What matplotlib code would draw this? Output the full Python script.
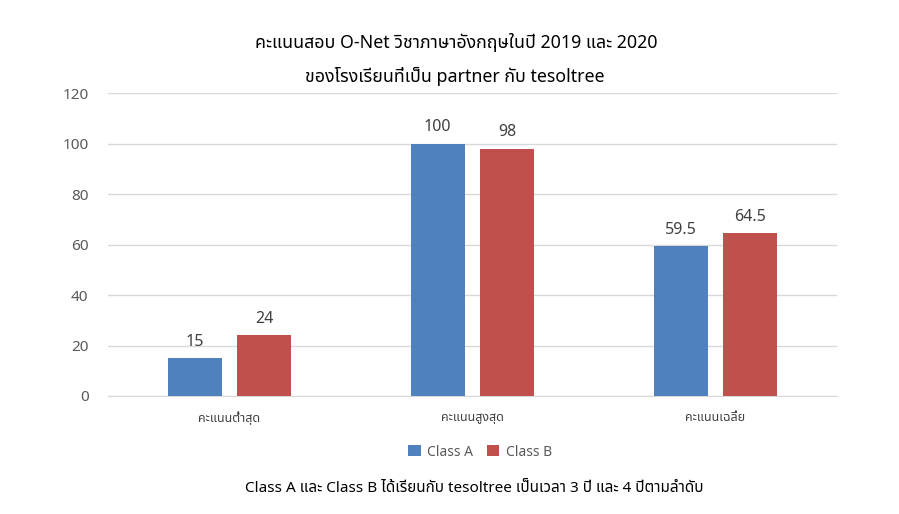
import matplotlib
matplotlib.use("Agg")
import matplotlib.pyplot as plt
import numpy as np

# fonts: Thai glyphs first, Latin fallback
plt.rcParams['font.family'] = ['Noto Sans Thai', 'Noto Sans', 'DejaVu Sans']

# data
categories = ['คะแนนต่ำสุด', 'คะแนนสูงสุด', 'คะแนนเฉลี่ย']
class_a = [15, 100, 59.5]
class_b = [24, 98, 64.5]
series_names = ['Class A', 'Class B']
title_1 = 'คะแนนสอบ O-Net วิชาภาษาอังกฤษในปี 2019 และ 2020'
title_2 = 'ของโรงเรียนที่เป็น partner กับ tesoltree'
caption = 'Class A และ Class B ได้เรียนกับ tesoltree เป็นเวลา 3 ปี และ 4 ปีตามลำดับ'

blue = '#4F81BD'
red = '#C0504D'
grid_col = '#D9D9D9'

fig = plt.figure(figsize=(8.99, 5.14), dpi=100)
ax = fig.add_axes([0.1201, 0.2296, 0.811, 0.589])

x = np.arange(len(categories))
w = 0.223
off = 0.143
bars_a = ax.bar(x - off, class_a, w, color=blue, label=series_names[0], zorder=3)
bars_b = ax.bar(x + off, class_b, w, color=red, label=series_names[1], zorder=3)

# value labels above bars
for bars in (bars_a, bars_b):
    for b in bars:
        v = b.get_height()
        ax.annotate(f'{v:g}', (b.get_x() + b.get_width() / 2, v), xytext=(0, 6),
                    textcoords='offset points', ha='center', va='bottom',
                    fontsize=11.5, color='#404040')

ax.set_xlim(-0.5, 2.5)
ax.set_ylim(0, 120)
ax.set_yticks(range(0, 121, 20))
ax.yaxis.grid(True, color=grid_col, linewidth=1, zorder=0)
ax.set_axisbelow(True)
for s in ['top', 'right', 'left']:
    ax.spines[s].set_visible(False)
ax.spines['bottom'].set_color(grid_col)
ax.tick_params(axis='y', length=0, pad=14, labelsize=11, labelcolor='#595959')
ax.tick_params(axis='x', length=0, pad=11, labelsize=9, labelcolor='#404040')
ax.set_xticks(x)
ax.set_xticklabels(categories, fontweight='bold')

# titles
fig.text(456 / 899, 1 - 42 / 514, title_1, ha='center', va='center', fontsize=12.8, color='#000000')
fig.text(455 / 899, 1 - 76 / 514, title_2, ha='center', va='center', fontsize=12.8, color='#000000')

# legend
fig.legend(handles=[bars_a, bars_b], labels=series_names, loc='center',
           bbox_to_anchor=(480 / 899, 1 - 452 / 514), ncol=2, frameon=False,
           fontsize=10, labelcolor='#595959', handlelength=0.9, handleheight=0.9,
           handletextpad=0.45, columnspacing=1.0)

# caption
fig.text(474 / 899, 1 - 489 / 514, caption, ha='center', va='center', fontsize=11, color='#000000')

fig.savefig('out.png', dpi=100)
